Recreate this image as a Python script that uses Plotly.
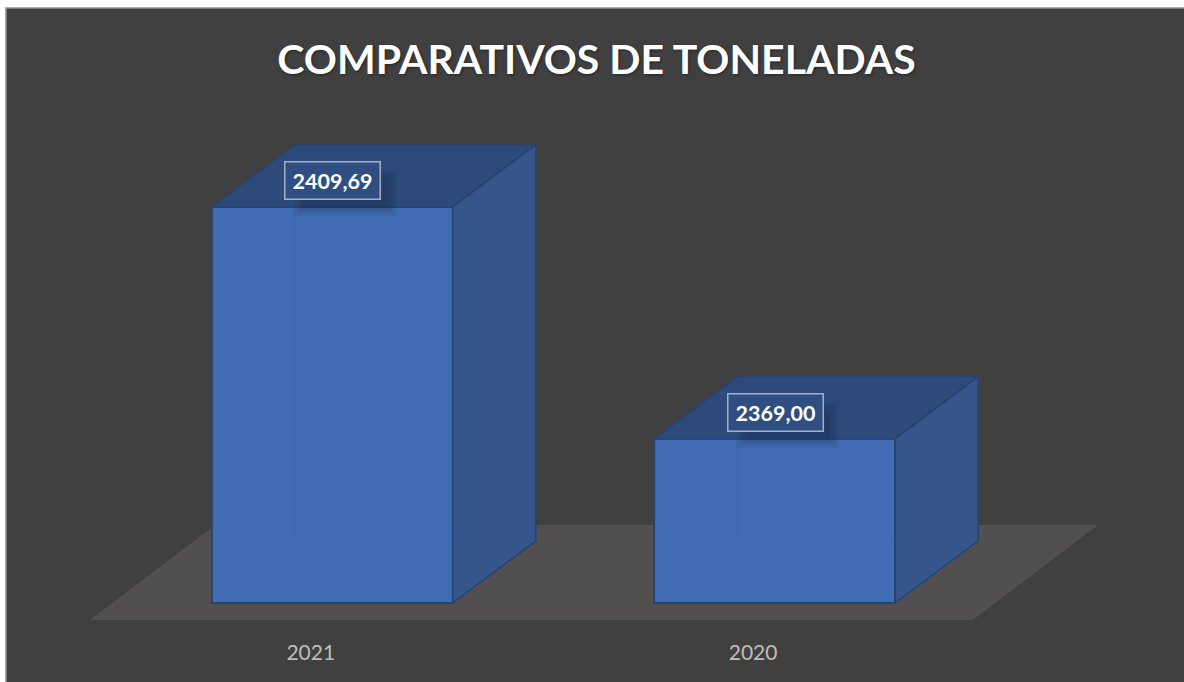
import plotly.graph_objects as go

# ---- data ----
categories = ["2021", "2020"]
values = [2409.69, 2369.00]
title_text = "COMPARATIVOS DE TONELADAS"

# ---- style / layout constants ----
W, H = 1184, 682
PLOT_H = 620
Y_MIN, Y_MAX = 2337.2, 2446.0
CX0, SEP = 332.3, 442.3            # px centre of first bar, px between bars
UX = 1 / SEP                       # x data units per px
UY = (Y_MAX - Y_MIN) / PLOT_H      # y data units per px
BASE = Y_MIN + 17 * UY
BAR_W = 241 * UX
DX, DY = 83 * UX, 62 * UY          # oblique depth of the boxes
TICK_OFFSET = -21.5 * UX           # tick labels sit left of the front face centre
C_FRONT, C_TOP, C_SIDE, C_EDGE = "#416CB3", "#2D4A7A", "#35558B", "#26446F"
C_BG, C_FLOOR = "#404040", "#524F50"

xs = list(range(len(categories)))
fig = go.Figure()


def poly(px, py, fill, line=C_EDGE, width=1.5):
    fig.add_trace(go.Scatter(x=px, y=py, mode="lines", fill="toself", fillcolor=fill,
                             line=dict(color=line, width=width), hoverinfo="skip",
                             showlegend=False))


fig.add_trace(go.Bar(x=xs, y=[v - BASE for v in values], base=BASE, width=BAR_W,
                     marker=dict(color=C_FRONT, line=dict(color=C_EDGE, width=2)),
                     showlegend=False))

for x, v in zip(xs, values):
    l, r = x - BAR_W / 2, x + BAR_W / 2
    poly([l, l + DX, r + DX, r, l], [v, v + DY, v + DY, v, v], C_TOP)
    poly([r, r + DX, r + DX, r, r], [v, v + DY, BASE + DY, BASE, v], C_SIDE)
    fig.add_trace(go.Scatter(x=[l, l + DX, r, None, l + DX, l + DX],
                             y=[BASE, BASE + DY, BASE + DY, None, BASE + DY, v],
                             mode="lines", line=dict(color="rgba(55,95,160,0.3)", width=1),
                             hoverinfo="skip", showlegend=False))

# floor plane under the boxes
fx0, fx1 = (90 - CX0) * UX, (973 - CX0) * UX
fdx, ftop = 125 * UX, Y_MIN + 95 * UY
shapes = [
    dict(type="rect", xref="paper", yref="paper", x0=6 / W, x1=1.02,
         y0=-0.2, y1=(PLOT_H - 8) / PLOT_H, layer="below", fillcolor=C_BG,
         line=dict(color="#8F8F8F", width=1.5)),
    dict(type="path", xref="x", yref="y", layer="below", fillcolor=C_FLOOR, line_width=0,
         path=f"M{fx0},{Y_MIN} L{fx1},{Y_MIN} L{fx1 + fdx},{ftop} L{fx0 + fdx},{ftop} Z"),
]

# soft shadow behind each data label, and the labels
annotations = []
for x, v in zip(xs, values):
    for grow in (0, 3, 6, 9):
        shapes.append(dict(type="rect", xref="x", yref="y", layer="above",
                           x0=x + (-29 - grow) * UX, x1=x + (55 + grow) * UX,
                           y0=v + (0 - grow) * UY, y1=v + (28 + grow) * UY,
                           fillcolor="rgba(20,35,65,0.09)", line_width=0))
    annotations.append(dict(x=x, y=v, xref="x", yref="y", yshift=26, xshift=0.5, showarrow=False,
                            text="<b>" + f"{v:.2f}".replace(".", ",") + "</b>",
                            font=dict(family="Lato", size=21.5, color="white"),
                            width=92, height=34, align="center", valign="middle",
                            bgcolor="#2F4E82", bordercolor="#A3AFC6", borderwidth=1.5))

fig.update_layout(
    width=W, height=H, margin=dict(l=0, r=0, t=0, b=H - PLOT_H, pad=0),
    paper_bgcolor="white", plot_bgcolor="rgba(0,0,0,0)", showlegend=False,
    shapes=shapes, annotations=annotations,
    title=dict(text="<b>" + title_text + "</b>", xref="container", yref="container",
               x=596.5 / W, y=1 - 60 / H, xanchor="center", yanchor="middle",
               font=dict(family="Lato", size=41, color="white",
                         shadow="1px 1px 3px rgba(0,0,0,0.45)")),
    xaxis=dict(range=[-CX0 * UX, (W - CX0) * UX],
               tickvals=[x + TICK_OFFSET for x in xs], ticktext=categories,
               showgrid=False, zeroline=False, showline=False, ticks="",
               ticklabelstandoff=18, tickfont=dict(family="Lato", size=21, color="#BDBDBD")),
    yaxis=dict(range=[Y_MIN, Y_MAX], visible=False),
)
fig.write_html("out.html", config=dict(displayModeBar=False),
               post_script="document.body.style.margin='0';")
